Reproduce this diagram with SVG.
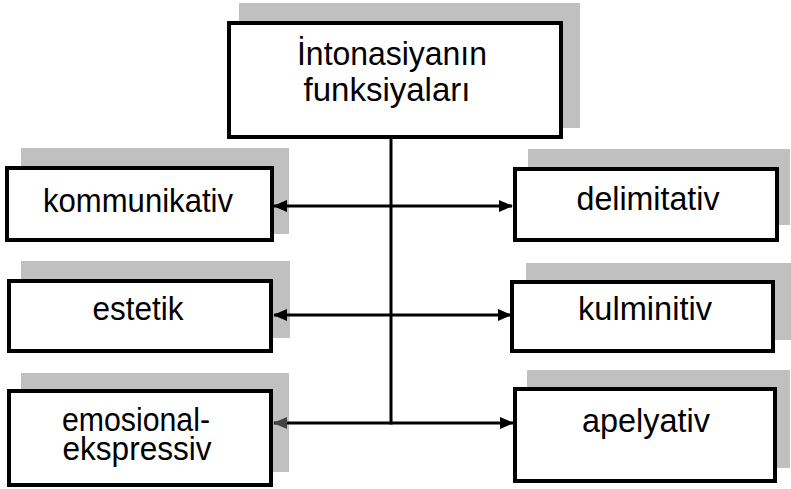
<svg xmlns="http://www.w3.org/2000/svg" width="791" height="489" viewBox="0 0 791 489">
  <style>
    .shadow { fill: #c0c0c0; stroke: none; }
    .box { fill: #ffffff; stroke: #000000; stroke-width: 4; }
    .label { font-family: "Liberation Sans", Arial, sans-serif; font-size: 34px; fill: #000000; text-anchor: middle; }
    .link { fill: none; stroke: #000000; stroke-width: 3; }
  </style>
  <defs>
    <marker id="arrow" markerUnits="userSpaceOnUse" markerWidth="14" markerHeight="12" refX="13" refY="6" orient="auto-start-reverse">
      <path d="M0,0 L14,6 L0,12 z" fill="#000000"/>
    </marker>
    <marker id="arrowGrey" markerUnits="userSpaceOnUse" markerWidth="14" markerHeight="12" refX="13" refY="6" orient="auto-start-reverse">
      <path d="M0,0 L14,6 L0,12 z" fill="#444444"/>
    </marker>
  </defs>
  <rect width="791" height="489" fill="#ffffff"/>

  <g id="root">
    <rect class="shadow" x="239" y="3" width="341" height="125"/>
    <rect class="box" x="229" y="23" width="332" height="114"/>
    <text class="label" x="392" y="65" textLength="190" lengthAdjust="spacingAndGlyphs">İntonasiyanın</text>
    <text class="label" x="387" y="101" textLength="167" lengthAdjust="spacingAndGlyphs">funksiyaları</text>
  </g>

  <g id="kommunikativ">
    <rect class="shadow" x="21" y="148" width="268" height="86"/>
    <rect class="box" x="7" y="168" width="265" height="72"/>
    <text class="label" x="138" y="212" textLength="190" lengthAdjust="spacingAndGlyphs">kommunikativ</text>
  </g>

  <g id="delimitativ">
    <rect class="shadow" x="528" y="149" width="262" height="76"/>
    <rect class="box" x="515" y="169" width="262" height="71"/>
    <text class="label" x="648" y="210" textLength="143" lengthAdjust="spacingAndGlyphs">delimitativ</text>
  </g>

  <g id="estetik">
    <rect class="shadow" x="21" y="261" width="269" height="77"/>
    <rect class="box" x="9" y="281" width="262" height="70"/>
    <text class="label" x="138" y="320" textLength="91" lengthAdjust="spacingAndGlyphs">estetik</text>
  </g>

  <g id="kulminitiv">
    <rect class="shadow" x="526" y="263" width="265" height="77"/>
    <rect class="box" x="512" y="282" width="261" height="69"/>
    <text class="label" x="645" y="320" textLength="134" lengthAdjust="spacingAndGlyphs">kulminitiv</text>
  </g>

  <g id="emosional-ekspressiv">
    <rect class="shadow" x="21" y="373" width="268" height="99"/>
    <rect class="box" x="9" y="391" width="262" height="94"/>
    <text class="label" x="136" y="431" textLength="148" lengthAdjust="spacingAndGlyphs">emosional-</text>
    <text class="label" x="137" y="460" textLength="149" lengthAdjust="spacingAndGlyphs">ekspressiv</text>
  </g>

  <g id="apelyativ">
    <rect class="shadow" x="527" y="370" width="263" height="98"/>
    <rect class="box" x="515" y="389" width="260" height="92"/>
    <text class="label" x="646" y="432" textLength="128" lengthAdjust="spacingAndGlyphs">apelyativ</text>
  </g>

  <g id="connectors">
    <line class="link" x1="391" y1="139" x2="391" y2="424.5"/>
    <line class="link" x1="274" y1="206" x2="512" y2="206" marker-start="url(#arrow)" marker-end="url(#arrow)"/>
    <line class="link" x1="274" y1="315" x2="511" y2="315" marker-start="url(#arrow)" marker-end="url(#arrow)"/>
    <line class="link" x1="391" y1="423" x2="513" y2="423" marker-end="url(#arrow)"/>
    <line class="link" x1="274" y1="423" x2="391" y2="423" marker-start="url(#arrowGrey)"/>
  </g>
</svg>
